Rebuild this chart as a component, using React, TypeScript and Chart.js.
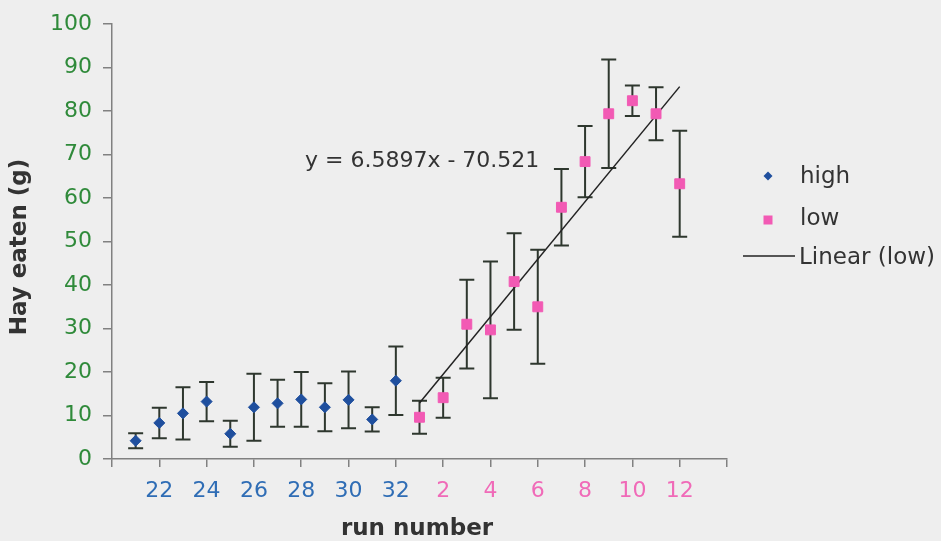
import React, { useEffect, useRef } from 'react';
import { Chart, registerables } from 'chart.js';

Chart.register(...registerables);

const FONT = "'DejaVu Sans', 'Liberation Sans', Arial, sans-serif";

// ---- data ----
const highRuns = [21, 22, 23, 24, 25, 26, 27, 28, 29, 30, 31, 32];
const highMeans = [4.2, 8.3, 10.5, 13.2, 5.8, 11.9, 12.8, 13.7, 11.9, 13.6, 9.1, 18.0];
const highErrors = [1.7, 3.5, 6.0, 4.5, 3.0, 7.7, 5.4, 6.3, 5.5, 6.5, 2.8, 7.9];

const lowRuns = [1, 2, 3, 4, 5, 6, 7, 8, 9, 10, 11, 12];
const lowMeans = [9.6, 14.1, 31.0, 29.7, 40.8, 35.0, 57.9, 68.4, 79.4, 82.4, 79.4, 63.3];
const lowErrors = [3.8, 4.6, 10.2, 15.7, 11.1, 13.1, 8.8, 8.2, 12.5, 3.5, 6.1, 12.2];

const xTickLabels = ['', '22', '24', '26', '28', '30', '32', '2', '4', '6', '8', '10', '12', ''];
const yTickValues = [0, 10, 20, 30, 40, 50, 60, 70, 80, 90, 100];

const legendLabels = ['high', 'low', 'Linear (low)'];
const equationText = 'y = 6.5897x - 70.521';
const xTitle = 'run number';
const yTitle = 'Hay eaten (g)';

const HIGH_COLOR = '#1f4f9e';
const LOW_COLOR = '#f25ab4';
const HIGH_TICK = '#2f6db5';
const LOW_TICK = '#f06ab8';
const Y_TICK = '#2f8a3a';
const ERR_COLOR = '#2e372e';
const AXIS_COLOR = '#808080';
const TEXT_COLOR = '#333333';

export default function App() {
  const ref = useRef<HTMLCanvasElement>(null);

  useEffect(() => {
    const canvas = ref.current!;
    const highData = highMeans.map((y, i) => ({ x: i + 1, y }));
    const lowData = lowMeans.map((y, i) => ({ x: highRuns.length + i + 1, y }));

    // least-squares trendline of the low series (lowRuns.length points)
    const n = lowRuns.length;
    const mx = lowData.reduce((s, p) => s + p.x, 0) / n;
    const my = lowData.reduce((s, p) => s + p.y, 0) / n;
    let sxy = 0;
    let sxx = 0;
    lowData.forEach((p) => {
      sxy += (p.x - mx) * (p.y - my);
      sxx += (p.x - mx) * (p.x - mx);
    });
    const slope = sxy / sxx;
    const icpt = my - slope * mx;
    const x0 = lowData[0].x;
    const x1 = lowData[n - 1].x;
    const trend = [
      { x: x0, y: icpt + slope * x0 },
      { x: x1, y: icpt + slope * x1 },
    ];

    const errorBars = {
      id: 'errorBars',
      beforeDatasetsDraw(chart: any) {
        const { ctx, scales } = chart;
        const xs = scales.x;
        const ys = scales.y;
        const series = [
          { data: highData, err: highErrors },
          { data: lowData, err: lowErrors },
        ];
        ctx.save();
        ctx.strokeStyle = ERR_COLOR;
        ctx.lineWidth = 2;
        series.forEach(({ data, err }) => {
          data.forEach((p, i) => {
            const px = xs.getPixelForValue(p.x);
            const top = ys.getPixelForValue(p.y + err[i]);
            const bot = ys.getPixelForValue(p.y - err[i]);
            const cap = 7.5;
            ctx.beginPath();
            ctx.moveTo(px, top);
            ctx.lineTo(px, bot);
            ctx.moveTo(px - cap, top);
            ctx.lineTo(px + cap, top);
            ctx.moveTo(px - cap, bot);
            ctx.lineTo(px + cap, bot);
            ctx.stroke();
          });
        });
        ctx.restore();
      },
    };

    const decor = {
      id: 'decor',
      beforeDraw(chart: any) {
        const { ctx, width, height } = chart;
        ctx.save();
        ctx.fillStyle = '#eeeeee';
        ctx.fillRect(0, 0, width, height);
        ctx.restore();
      },
      afterDraw(chart: any) {
        const { ctx, chartArea } = chart;
        ctx.save();
        // axis titles
        ctx.fillStyle = TEXT_COLOR;
        ctx.font = `bold 23px ${FONT}`;
        ctx.textAlign = 'center';
        ctx.textBaseline = 'alphabetic';
        ctx.fillText(xTitle, 417, 535);
        ctx.save();
        ctx.translate(26, 247);
        ctx.rotate(-Math.PI / 2);
        ctx.textBaseline = 'alphabetic';
        ctx.fillText(yTitle, 0, 0);
        ctx.restore();

        // equation
        ctx.font = `22px ${FONT}`;
        ctx.textAlign = 'left';
        ctx.fillText(equationText, 305, 167);

        // legend
        const lx = chartArea.right + 41;
        ctx.font = `23px ${FONT}`;
        ctx.fillStyle = TEXT_COLOR;
        ctx.fillText(legendLabels[0], 800, 183);
        ctx.fillText(legendLabels[1], 800, 225);
        ctx.fillText(legendLabels[2], 799, 264);
        // diamond
        ctx.fillStyle = HIGH_COLOR;
        ctx.beginPath();
        ctx.moveTo(lx, 176 - 4.5);
        ctx.lineTo(lx + 4.5, 176);
        ctx.lineTo(lx, 176 + 4.5);
        ctx.lineTo(lx - 4.5, 176);
        ctx.closePath();
        ctx.fill();
        // square
        ctx.fillStyle = LOW_COLOR;
        ctx.fillRect(lx - 4.5, 220 - 4.5, 9, 9);
        // line
        ctx.strokeStyle = '#222222';
        ctx.lineWidth = 1.5;
        ctx.beginPath();
        ctx.moveTo(743, 256);
        ctx.lineTo(795, 256);
        ctx.stroke();
        ctx.restore();
      },
    };

    const chart = new Chart(canvas, {
      type: 'scatter',
      data: {
        datasets: [
          {
            label: legendLabels[0],
            data: highData,
            pointStyle: 'rectRot',
            pointRadius: 5.5,
            backgroundColor: HIGH_COLOR,
            borderColor: HIGH_COLOR,
            borderWidth: 1,
            showLine: false,
          },
          {
            label: legendLabels[1],
            data: lowData,
            pointStyle: 'rect',
            pointRadius: 7,
            backgroundColor: LOW_COLOR,
            borderColor: LOW_COLOR,
            borderWidth: 1,
            showLine: false,
          },
          {
            label: legendLabels[2],
            data: trend,
            showLine: true,
            pointRadius: 0,
            borderColor: '#222222',
            borderWidth: 1.5,
            fill: false,
          },
        ],
      },
      options: {
        responsive: false,
        animation: false,
        devicePixelRatio: 1,
        layout: { padding: { left: 0, right: 214, top: 21, bottom: 0 } },
        plugins: { legend: { display: false }, tooltip: { enabled: false } },
        scales: {
          x: {
            type: 'linear',
            min: 0,
            max: 26,
            afterBuildTicks: (s: any) => {
              s.ticks = xTickLabels.map((_, i) => ({ value: i * 2 }));
            },
            ticks: {
              autoSkip: false,
              maxRotation: 0,
              padding: 11,
              font: { family: FONT, size: 22 },
              color: (c: any) => (c.tick && c.tick.value <= 12 ? HIGH_TICK : LOW_TICK),
              callback: (v: any) => xTickLabels[Math.round(Number(v) / 2)] ?? '',
            },
            grid: { drawOnChartArea: false, drawTicks: true, tickLength: 8, color: AXIS_COLOR, lineWidth: 1.5 },
            border: { color: AXIS_COLOR, width: 1.5 },
            afterFit: (s: any) => {
              s.height = 82;
            },
          },
          y: {
            type: 'linear',
            min: 0,
            max: 100,
            afterBuildTicks: (s: any) => {
              s.ticks = yTickValues.map((v) => ({ value: v }));
            },
            ticks: {
              padding: 11,
              font: { family: FONT, size: 22 },
              color: Y_TICK,
            },
            grid: { drawOnChartArea: false, drawTicks: true, tickLength: 9, color: AXIS_COLOR, lineWidth: 1.5 },
            border: { color: AXIS_COLOR, width: 1.5 },
            afterFit: (s: any) => {
              s.width = 112;
            },
          },
        },
      },
      plugins: [errorBars, decor],
    } as any);

    return () => chart.destroy();
  }, []);

  return (
    <div style={{ position: 'fixed', left: 0, top: 0, width: 941, height: 541 }}>
      <canvas ref={ref} width={941} height={541} style={{ display: 'block', width: 941, height: 541 }} />
    </div>
  );
}
